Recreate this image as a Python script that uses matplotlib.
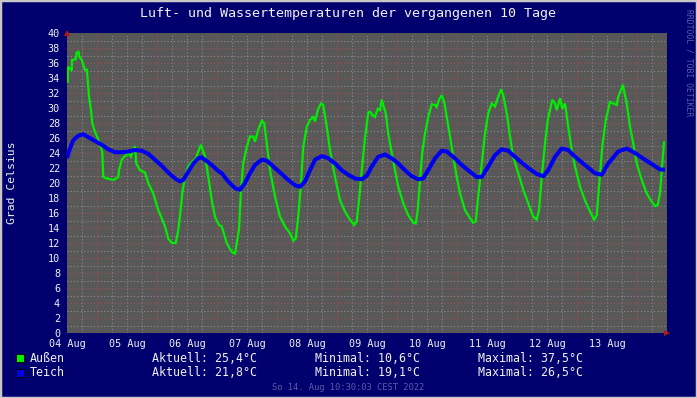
import matplotlib
matplotlib.use("Agg")
import matplotlib.pyplot as plt
from matplotlib.patches import Rectangle
import numpy as np

# ---- data (hours since 04 Aug 12:00, temperature in °C) ----
aussen_h = [0.3, 0.4, 1.9, 2.0, 3.5, 3.9, 4.6, 5.0, 5.9, 7.2, 7.9, 8.3, 8.8, 9.6, 10.1, 11.2, 12.3,
            13.2, 14.1, 14.5, 16.0, 18.7, 20.5, 20.8, 21.9, 22.9, 24.5, 25.6, 26.5, 27.2, 27.7, 29.2,
            31.2, 32.5, 34.5, 36.5, 37.9, 39.2, 40.5, 41.9, 43.5, 44.5, 45.6, 46.1, 47.2, 48.5, 49.9,
            51.6, 52.5, 53.6, 54.3, 55.2, 56.3, 57.9, 59.2, 60.8, 61.9, 63.9, 65.9, 67.2, 67.9, 68.8,
            69.6, 70.5, 71.9, 73.2, 74.5, 75.2, 76.5, 77.9, 78.9, 79.9, 81.2, 83.2, 85.2, 87.2, 89.2,
            90.5, 91.5, 92.5, 93.6, 94.5, 95.9, 97.2, 98.5, 99.2, 100.5, 101.6, 102.5, 103.9, 105.2,
            107.2, 109.2, 111.2, 113.2, 114.9, 115.9, 116.8, 117.9, 119.2, 120.5, 121.2, 122.1, 123.2,
            124.3, 125.2, 125.9, 126.5, 127.5, 128.5, 129.9, 131.2, 132.5, 134.5, 136.5, 138.5, 139.5,
            140.3, 141.2, 142.1, 143.2, 144.5, 145.9, 147.2, 147.9, 148.8, 149.9, 150.9, 151.9, 153.2,
            154.5, 155.9, 157.2, 159.2, 161.2, 162.5, 163.5, 164.5, 165.9, 167.2, 168.5, 169.9, 171.2,
            172.5, 173.6, 174.5, 175.9, 177.2, 178.5, 180.5, 182.5, 184.5, 186.5, 187.9, 188.8, 189.9,
            191.2, 192.3, 193.2, 194.1, 195.2, 195.9, 197.2, 198.1, 199.2, 200.5, 201.9, 203.2, 205.2,
            207.2, 209.2, 210.9, 211.9, 212.8, 214.1, 215.5, 217.2, 218.5, 219.9, 220.5, 221.6, 222.3,
            222.9, 223.9, 225.2, 226.5, 227.9, 229.9, 231.9, 233.9, 235.2, 236.3, 237.2, 237.9, 238.8]
aussen_t = [33.5, 35.5, 35.0, 36.4, 36.5, 37.4, 37.5, 36.8, 36.4, 35.1, 35.1, 33.7, 31.5, 29.7, 28.0,
            26.8, 26.0, 25.1, 24.2, 20.8, 20.6, 20.4, 20.8, 21.7, 23.1, 23.5, 24.0, 23.5, 24.4, 24.9,
            22.6, 21.7, 21.4, 20.0, 18.6, 16.4, 15.3, 14.2, 12.6, 12.0, 12.0, 13.7, 16.9, 18.6, 20.8,
            22.2, 22.8, 23.3, 24.2, 25.1, 24.4, 23.6, 21.3, 17.7, 15.5, 14.4, 14.2, 12.0, 10.8, 10.6,
            12.0, 13.8, 19.1, 22.6, 24.8, 26.2, 26.2, 25.5, 27.1, 28.3, 28.0, 25.3, 21.7, 18.2, 15.5,
            14.2, 13.3, 12.3, 12.6, 15.5, 20.0, 24.8, 27.5, 28.4, 28.8, 28.2, 29.9, 30.6, 30.4, 27.5,
            24.4, 20.8, 17.7, 16.2, 15.1, 14.4, 14.9, 17.7, 21.7, 26.0, 29.4, 29.5, 29.1, 28.8, 29.9,
            29.7, 31.1, 30.4, 29.3, 26.6, 24.0, 21.7, 19.5, 17.3, 15.7, 14.7, 14.6, 16.4, 20.4, 24.0,
            26.6, 28.8, 30.5, 30.4, 30.1, 31.1, 31.7, 30.8, 28.8, 26.2, 23.5, 20.8, 18.6, 16.4, 15.3,
            14.7, 14.9, 18.2, 22.6, 26.6, 29.3, 30.6, 30.2, 31.5, 32.5, 31.7, 29.3, 26.2, 23.5, 21.3,
            19.1, 17.3, 15.5, 15.1, 16.4, 20.8, 25.3, 28.4, 29.7, 31.1, 30.6, 29.7, 31.3, 29.9, 30.6,
            27.5, 24.4, 22.2, 19.5, 17.7, 16.2, 15.1, 15.7, 19.5, 24.8, 28.4, 30.8, 30.6, 30.4, 31.5,
            32.4, 33.1, 32.2, 30.6, 27.5, 25.3, 22.6, 20.4, 18.6, 17.5, 16.9, 17.1, 18.6, 21.7, 25.4]

teich_h = [0.0, 1.2, 2.5, 4.5, 6.5, 8.5, 11.2, 13.9, 16.5, 19.2, 21.9, 24.5, 27.2, 29.9, 32.5, 35.2,
           37.9, 40.5, 43.2, 45.2, 46.5, 48.5, 50.5, 52.5, 53.9, 55.2, 57.9, 60.5, 61.9, 64.5, 67.2,
           69.2, 71.2, 73.2, 75.2, 77.9, 79.9, 82.5, 85.9, 88.5, 91.2, 93.2, 95.2, 97.2, 99.2, 101.9,
           104.5, 107.2, 109.9, 112.5, 115.2, 117.9, 120.0, 121.9, 124.5, 127.2, 129.9, 132.5, 135.2,
           137.9, 140.5, 142.5, 144.5, 147.2, 149.9, 151.9, 154.5, 157.9, 161.2, 163.9, 165.9, 168.5,
           171.2, 173.9, 176.5, 180.5, 184.5, 187.9, 190.5, 192.5, 195.2, 197.9, 200.5, 203.2, 207.2,
           211.2, 213.9, 216.5, 220.5, 223.9, 227.2, 231.2, 234.5, 237.2, 239.2]
teich_t = [23.3, 24.6, 25.7, 26.3, 26.5, 26.1, 25.6, 25.1, 24.5, 24.1, 24.1, 24.2, 24.4, 24.3, 23.9,
           23.1, 22.3, 21.4, 20.6, 20.2, 20.4, 21.5, 22.6, 23.3, 23.4, 23.1, 22.4, 21.6, 21.3, 20.2,
           19.3, 19.1, 20.0, 21.3, 22.4, 23.1, 23.0, 22.2, 21.2, 20.4, 19.7, 19.5, 20.2, 21.7, 23.1,
           23.6, 23.3, 22.6, 21.7, 21.1, 20.6, 20.5, 21.0, 22.2, 23.5, 23.8, 23.3, 22.6, 21.7, 20.9,
           20.5, 20.6, 21.7, 23.3, 24.3, 24.2, 23.5, 22.4, 21.5, 20.8, 20.8, 22.2, 23.7, 24.5, 24.3,
           23.1, 22.0, 21.2, 20.9, 21.7, 23.5, 24.6, 24.4, 23.5, 22.4, 21.3, 21.1, 22.6, 24.2, 24.6,
           24.0, 23.1, 22.4, 21.8, 21.8]

x_tick_pos = [0, 24, 48, 72, 96, 120, 144, 168, 192, 216]
x_tick_labels = ["04 Aug", "05 Aug", "06 Aug", "07 Aug", "08 Aug",
                 "09 Aug", "10 Aug", "11 Aug", "12 Aug", "13 Aug"]
y_ticks = list(range(0, 41, 2))

legend_names = ["Außen", "Teich"]
legend_cur = ["25,4", "21,8"]
legend_min = ["10,6", "19,1"]
legend_max = ["37,5", "26,5"]

# ---- style ----
NAVY = "#00006e"
PLOTBG = "#585858"
GREEN = "#00ee00"
BLUE = "#0000ee"
TXT = "#f0f0f0"
MONO = "DejaVu Sans Mono"

W, H = 697, 398
fig = plt.figure(figsize=(W / 100, H / 100), dpi=100, facecolor=NAVY)
L, R, T, B = 67, 667, 33, 333
ax = fig.add_axes([L / W, 1 - B / H, (R - L) / W, (B - T) / H])
ax.set_facecolor(PLOTBG)
ax.set_xlim(0, 240)
ax.set_ylim(0, 40)
for s in ax.spines.values():
    s.set_visible(False)

# grid
for hx in np.arange(6, 240, 6):
    if (hx - 12) % 24 == 0:
        ax.axvline(hx, color="#a05050", lw=0.8, ls=(0, (1, 2)), zorder=1)
    else:
        ax.axvline(hx, color="#8c8c8c", lw=0.8, ls=(0, (1, 2)), zorder=1)
for ty in range(1, 40):
    if ty % 2 == 0:
        ax.axhline(ty, color="#a05050", lw=0.8, ls=(0, (1, 2)), zorder=1)
    else:
        ax.axhline(ty, color="#8c8c8c", lw=0.8, ls=(0, (1, 2)), zorder=1)

ax.plot(aussen_h, aussen_t, color=GREEN, lw=1.6, zorder=3, solid_joinstyle="miter")
ax.plot(teich_h, teich_t, color=BLUE, lw=2.9, zorder=4, solid_capstyle="butt")

ax.set_xticks(x_tick_pos)
ax.set_xticklabels(x_tick_labels, family=MONO, fontsize=7.3, color=TXT)
ax.set_yticks(y_ticks)
ax.set_yticklabels([str(v) for v in y_ticks], family=MONO, fontsize=7.3, color=TXT)
ax.tick_params(axis="x", length=0, pad=4.2)
ax.tick_params(axis="y", length=0, pad=5)

# axis arrows
ax.plot([0], [1.0], transform=ax.transAxes, marker="^", ms=4, color="#b01818",
        clip_on=False, zorder=5, markeredgewidth=0)
ax.plot([1.0], [0], transform=ax.transAxes, marker=">", ms=4, color="#b01818",
        clip_on=False, zorder=5, markeredgewidth=0)

# title, axis label, watermark
fig.text(0.5, 1 - 14 / H, "Luft- und Wassertemperaturen der vergangenen 10 Tage",
         family=MONO, fontsize=9.6, color=TXT, ha="center", va="center")
fig.text(12 / W, 1 - 183 / H, "Grad Celsius", family=MONO, fontsize=8.2, color=TXT,
         rotation=90, ha="center", va="center")
fig.text(689 / W, 1 - 63 / H, "RRDTOOL / TOBI OETIKER", family=MONO, fontsize=5.8,
         color="#5c5ca8", rotation=270, ha="center", va="center")

# legend
colors = [GREEN, BLUE]
rows_y = [358, 373]
for i in range(2):
    yy = rows_y[i]
    fig.patches.append(Rectangle((15.5 / W, 1 - (yy + 4) / H), 8 / W, 8 / H,
                                 transform=fig.transFigure, facecolor=colors[i],
                                 edgecolor="black", lw=0.6))
    fig.text(30 / W, 1 - yy / H, legend_names[i], family=MONO, fontsize=8.4, color=TXT,
             va="center", ha="left")
    fig.text(152 / W, 1 - yy / H, "Aktuell: " + legend_cur[i] + "°C", family=MONO,
             fontsize=8.4, color=TXT, va="center", ha="left")
    fig.text(315 / W, 1 - yy / H, "Minimal: " + legend_min[i] + "°C", family=MONO,
             fontsize=8.4, color=TXT, va="center", ha="left")
    fig.text(478 / W, 1 - yy / H, "Maximal: " + legend_max[i] + "°C", family=MONO,
             fontsize=8.4, color=TXT, va="center", ha="left")

fig.text(0.5, 1 - 387 / H, "So 14. Aug 10:30:03 CEST 2022", family=MONO, fontsize=6.3,
         color="#5c5ca8", ha="center", va="center")

# outer frame
fig.patches.append(Rectangle((0, 0), 1, 1, transform=fig.transFigure, fill=False,
                             edgecolor="#c8c8c8", lw=2.5))

fig.savefig("out.png", dpi=100, facecolor=NAVY)
